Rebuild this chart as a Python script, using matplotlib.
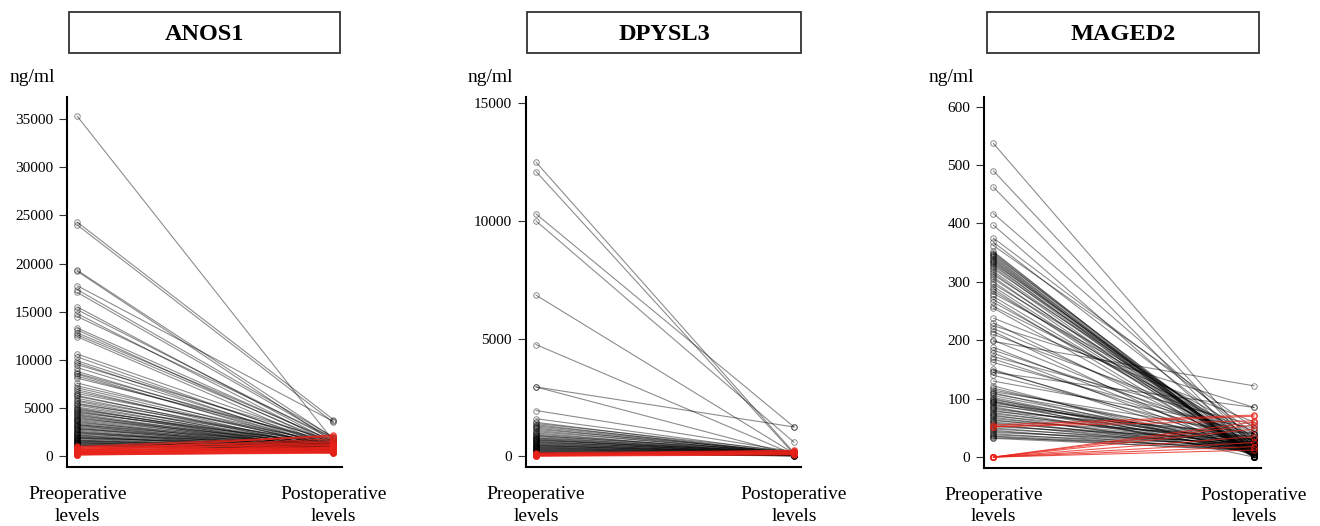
import matplotlib
matplotlib.use("Agg")
import matplotlib.pyplot as plt
from matplotlib.patches import Rectangle

plt.rcParams['font.family'] = ['Liberation Serif', 'DejaVu Serif']

# ---------------- data ----------------
titles = ["ANOS1", "DPYSL3", "MAGED2"]
x_labels = ["Preoperative\nlevels", "Postoperative\nlevels"]
unit_label = "ng/ml"

anos1_ticks = [0, 5000, 10000, 15000, 20000, 25000, 30000, 35000]
dpysl3_ticks = [0, 5000, 10000, 15000]
maged2_ticks = [0, 100, 200, 300, 400, 500, 600]

anos1_pre = [35300, 24300, 24000, 19300, 19200, 17700, 17300, 17000, 15500, 15200,
             14800, 14500, 13300, 13100, 12800, 12600, 12400, 10600, 10300, 9900,
             9700, 9500, 9200, 8800, 8600, 8500, 8300, 8100, 7600, 7300,
             7100, 6900, 6700, 6500, 6300, 6200, 6000, 5800, 5700, 5500,
             5400, 5300, 5100, 5000, 4900, 4800, 4700, 4600, 4500, 4400,
             4300, 4200, 4100, 4000, 3900, 3800, 3700, 3600, 3500, 3400,
             3300, 3250, 3200, 3100, 3000, 2900, 2850, 2800, 2700, 2600,
             2500, 2450, 2400, 2300, 2200, 2150, 2100, 2000, 1950, 1900,
             1850, 1800, 1700, 1650, 1600, 1550, 1500, 1450, 1400, 1350,
             1300, 1250, 1200, 1150, 1100, 1050, 1000,
             200, 300, 400, 250, 350, 500, 600, 150, 450, 550,
             700, 650, 800, 900, 750, 100, 200, 300, 400, 500,
             600, 350, 250, 850, 950, 1000, 150, 450, 550, 700]
anos1_post = [1600, 3800, 3500, 1900, 1500, 3600, 2000, 1800, 1400, 1700,
              1200, 1900, 1500, 1100, 1600, 1300, 900, 1400, 1000, 1200,
              800, 1600, 1100, 900, 1300, 700, 1000, 1500, 800, 1200,
              900, 600, 1100, 1400, 700, 1000, 800, 1200, 600, 900,
              1300, 700, 1000, 500, 800, 1100, 600, 900, 1300, 700,
              500, 1000, 800, 600, 1200, 900, 700, 500, 1000, 800,
              600, 1100, 400, 900, 700, 500, 1000, 800, 600, 400,
              900, 700, 500, 1100, 800, 600, 400, 700, 900, 500,
              1200, 600, 400, 800, 500, 1000, 700, 400, 600, 900,
              500, 800, 300, 700, 500, 900, 400,
              1200, 900, 1500, 600, 800, 2200, 1800, 500, 700, 1000,
              1300, 900, 1600, 2000, 1100, 400, 350, 450, 600, 650,
              800, 500, 400, 1200, 1400, 2100, 300, 550, 750, 850]

dpysl3_pre = [12500, 12100, 10300, 10000, 6850, 4750, 2950, 2950, 1950, 1600,
              1450, 1400, 1350, 1300, 1250, 1200, 1150, 1100, 1050, 1000,
              950, 900, 880, 850, 800, 780, 750, 720, 700, 680,
              650, 620, 600, 580, 550, 520, 500, 480, 460, 440,
              420, 400, 380, 360, 340, 320, 300, 280, 260, 240,
              220, 200, 180, 160, 150, 140, 120, 100,
              50, 80, 30, 100, 60, 20, 120, 40, 150, 10, 70, 90]
dpysl3_post = [150, 100, 1250, 600, 120, 80, 1250, 60, 200, 150,
               100, 200, 80, 150, 120, 60, 180, 100, 140, 50,
               120, 90, 200, 60, 150, 100, 40, 130, 80, 180,
               60, 110, 150, 50, 90, 130, 70, 40, 110, 160,
               60, 90, 30, 120, 70, 50, 100, 40, 80, 30,
               60, 20, 50, 30, 70, 40, 20, 50,
               200, 250, 150, 180, 120, 90, 220, 100, 260, 60, 160, 140]

maged2_pre = [537, 490, 462, 417, 397, 375, 368, 362, 352, 350,
              348, 346, 344, 342, 340, 338, 336, 334, 332, 330,
              328, 325, 322, 318, 315, 312, 308, 305, 300, 296,
              292, 288, 284, 280, 275, 270, 265, 258, 255, 238,
              230, 225, 220, 215, 210, 200, 198, 188, 183, 178,
              172, 168, 162, 150, 148, 145, 140, 130, 122, 118,
              115, 112, 110, 108, 105, 102, 100, 98, 96, 95,
              94, 92, 90, 88, 86, 84, 82, 80, 78, 76,
              74, 72, 70, 68, 66, 64, 62, 60, 58, 56,
              54, 52, 50, 48, 46, 44, 42, 40, 38, 36,
              35, 33, 32,
              0, 0, 0, 0, 0, 0, 0, 52, 52, 55]
maged2_post = [20, 15, 5, 30, 10, 40, 25, 50, 0, 5,
               0, 10, 0, 2, 0, 0, 5, 0, 15, 0,
               3, 0, 20, 8, 0, 25, 0, 12, 0, 30,
               5, 0, 18, 40, 10, 0, 22, 35, 5, 60,
               12, 85, 30, 0, 45, 20, 122, 15, 35, 8,
               55, 25, 40, 10, 20, 85, 30, 50, 5, 15,
               25, 40, 10, 30, 20, 12, 5, 25, 18, 0,
               22, 30, 15, 35, 10, 20, 28, 12, 40, 18,
               25, 8, 30, 15, 22, 10, 35, 18, 25, 12,
               20, 30, 15, 22, 10, 18, 25, 12, 20, 15,
               10, 18, 12,
               12, 18, 25, 35, 48, 55, 60, 62, 70, 72]

panels = [
    (anos1_pre, anos1_post, anos1_ticks),
    (dpysl3_pre, dpysl3_post, dpysl3_ticks),
    (maged2_pre, maged2_post, maged2_ticks),
]

# ---------------- layout (pixels) ----------------
W, H = 1320, 526
axes_px = [  # left, right, top, bottom
    (67, 341.7, 97, 466.7),
    (525.7, 801, 97.3, 466.7),
    (984.3, 1261, 96.7, 467.5),
]
ylims = [(-1100, 37300), (-437, 15255), (-17.8, 617)]
xlims = [(0.96, 2.033), (0.96, 2.027), (0.965, 2.027)]
title_boxes = [(69, 339.7), (527, 801), (987, 1259)]
unit_x = [10, 468, 929]

fig = plt.figure(figsize=(W / 100, H / 100), dpi=100)

for i, (pre, post, ticks) in enumerate(panels):
    l, r, t, b = axes_px[i]
    ax = fig.add_axes([l / W, 1 - b / H, (r - l) / W, (b - t) / H])
    ax.set_xlim(*xlims[i])
    ax.set_ylim(*ylims[i])
    # decreasing first (black), then increasing (red) on top
    for p, q in zip(pre, post):
        if q <= p:
            ax.plot([1, 2], [p, q], color='black', alpha=0.45, lw=0.8,
                    marker='o', ms=4, mfc='none', mew=0.7, zorder=2)
    for p, q in zip(pre, post):
        if q > p:
            ax.plot([1, 2], [p, q], color='#e8231a', alpha=0.75, lw=0.8,
                    marker='o', ms=4, mfc='none', mew=0.8, zorder=3)
    for s in ['top', 'right']:
        ax.spines[s].set_visible(False)
    for s in ['left', 'bottom']:
        ax.spines[s].set_linewidth(1.5)
        ax.spines[s].set_color('black')
    ax.set_yticks(ticks)
    ax.set_yticklabels([str(v) for v in ticks])
    ax.tick_params(axis='y', length=5.5, width=0.8, pad=4.5, labelsize=11,
                   color='#333333')
    ax.set_xticks([1, 2])
    ax.set_xticklabels(x_labels, fontsize=14, linespacing=1.35)
    ax.tick_params(axis='x', length=0, pad=14)

    x0, x1 = title_boxes[i]
    y0, y1 = 11.7, 52.7
    fig.patches.append(Rectangle((x0 / W, 1 - y1 / H), (x1 - x0) / W, (y1 - y0) / H,
                                 transform=fig.transFigure, fill=False,
                                 ec='#333333', lw=1.3))
    fig.text((x0 + x1) / 2 / W, 1 - 34.5 / H, titles[i], ha='center', va='center',
             fontsize=17.5, fontweight='bold')
    fig.text(unit_x[i] / W, 1 - 78 / H, unit_label, ha='left', va='center',
             fontsize=14)

fig.savefig("out.png", dpi=100)
